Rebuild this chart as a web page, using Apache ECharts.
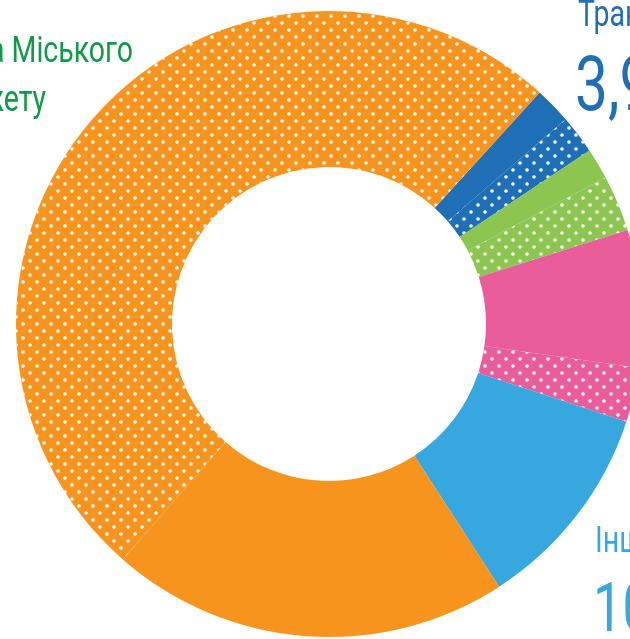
<!DOCTYPE html>
<html>
<head>
<meta charset="utf-8">
<script src="https://cdn.jsdelivr.net/npm/echarts@6/dist/echarts.min.js"></script>
<style>
html,body{margin:0;padding:0;background:#fff;}
#chart{width:630px;height:639px;}
</style>
</head>
<body>
<div id="chart"></div>
<script>
// Segments clockwise from the top-right (blue) segment
const segmentGroups = ['Транспорт', 'Транспорт', 'Зелений', 'Зелений', 'Рожевий', 'Рожевий', 'Інші', 'Міський бюджет', 'Міський бюджет'];
const segmentValues = [1.9, 2.0, 1.6, 2.9, 7.1, 2.8, 10.8, 20.6, 50.3];
const segmentDotted = [false, true, false, true, false, true, false, false, true];
const groupColors = {
  'Транспорт': '#1F6FB6',
  'Зелений': '#8CC54F',
  'Рожевий': '#E85D9A',
  'Інші': '#36A8DF',
  'Міський бюджет': '#F7941E'
};
const greenLabelLines = ['Частка Міського', 'бюджету'];
const transportLabel = 'Транспорт';
const otherLabel = 'Інші';

function groupTotal(name) {
  let s = 0;
  segmentGroups.forEach((g, i) => { if (g === name) s += segmentValues[i]; });
  return (Math.round(s * 10) / 10).toFixed(1).replace('.', ',') + '%';
}

const dotDecal = {
  symbol: 'circle',
  symbolSize: 0.9,
  color: '#ffffff',
  backgroundColor: null,
  dashArrayX: [[4, 10], [0, 7, 4, 3]],
  dashArrayY: [4, 3],
  rotation: 0
};

const pieData = segmentValues.map((v, i) => ({
  name: segmentGroups[i] + (segmentDotted[i] ? ' (b)' : ' (a)'),
  value: v,
  itemStyle: Object.assign({ color: groupColors[segmentGroups[i]], borderWidth: 0 },
    segmentDotted[i] ? { decal: dotDecal } : {})
}));

const nameFont = 'Roboto, sans-serif';
function txt(text, x, y, size, color, align) {
  return {
    type: 'text', silent: true,
    x: x, y: y, scaleX: 0.77, scaleY: 1,
    style: {
      text: text, x: 0, y: 0,
      font: size + 'px ' + nameFont,
      fill: color,
      align: align || 'left', textAlign: align || 'left',
      verticalAlign: 'bottom', textVerticalAlign: 'bottom'
    }
  };
}

const chart = echarts.init(document.getElementById('chart'), null, { renderer: 'canvas' });
chart.setOption({
  animation: false,
  backgroundColor: '#ffffff',
  series: [{
    type: 'pie',
    center: [329, 324],
    radius: [157, 313],
    startAngle: 47.7,
    clockwise: true,
    silent: true,
    label: { show: false },
    labelLine: { show: false },
    emphasis: { disabled: true, scale: false },
    itemStyle: { borderWidth: 0 },
    data: pieData
  }],
  graphic: [
    txt(greenLabelLines[0], 133, 71, 37, '#0E9A47', 'right'),
    txt(greenLabelLines[1], 46, 120, 37, '#0E9A47', 'right'),
    txt(transportLabel, 578, 35, 37, '#1F6FB6', 'left'),
    txt(groupTotal('Транспорт'), 575, 129, 76, '#1F6FB6', 'left'),
    txt(otherLabel, 595, 561, 37, '#36A8DF', 'left'),
    txt(groupTotal('Інші'), 593, 648, 68, '#36A8DF', 'left')
  ]
});
</script>
</body>
</html>
